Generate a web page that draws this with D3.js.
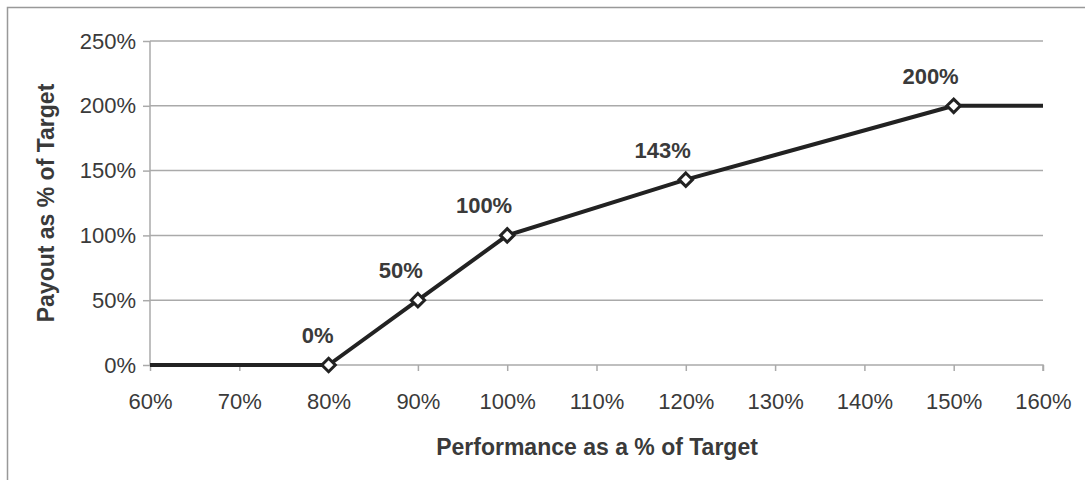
<!DOCTYPE html>
<html><head><meta charset="utf-8">
<script src="https://cdn.jsdelivr.net/npm/d3@7"></script>
<style>body{margin:0;background:#fff;}svg{display:block;font-family:"Liberation Sans",Arial,sans-serif;}</style>
</head><body><svg id="c" width="1085" height="480"></svg>
<script>
const performance = [60, 80, 90, 100, 120, 150, 160];
const payout = [0, 0, 50, 100, 143, 200, 200];
const labeled = [false, true, true, true, true, true, false];
const xTicks = [60,70,80,90,100,110,120,130,140,150,160];
const yTicks = [0,50,100,150,200,250];
const xTitle = "Performance as a % of Target";
const yTitle = "Payout as % of Target";

const svg = d3.select("#c");
svg.append("rect").attr("x",7.5).attr("y",7.5).attr("width",1090).attr("height",490)
  .attr("fill","none").attr("stroke","#999").attr("stroke-width",1.5);

const x = d3.scaleLinear().domain([60,160]).range([150,1043]);
const y = d3.scaleLinear().domain([0,250]).range([365,41]);

// gridlines
svg.append("g").selectAll("line").data(yTicks.filter(d=>d>0)).join("line")
  .attr("x1",150).attr("x2",1043).attr("y1",d=>y(d)).attr("y2",d=>y(d))
  .attr("stroke","#aaa").attr("stroke-width",1.5);

const gy = svg.append("g").attr("transform","translate(150,0)")
  .call(d3.axisLeft(y).tickValues(yTicks).tickFormat(d=>d+"%").tickSize(7).tickPadding(7));
const gx = svg.append("g").attr("transform","translate(0,365)")
  .call(d3.axisBottom(x).tickValues(xTicks).tickFormat(d=>d+"%").tickSize(6).tickPadding(22));
[gy,gx].forEach(g=>{
  g.selectAll("path,line").attr("stroke","#aaa").attr("stroke-width",1.5);
  g.selectAll("text").attr("fill","#3a3a3a").style("font-size","22px").style("font-family","Liberation Sans, Arial, sans-serif");
});
gx.select(".domain").attr("d","M150,0H1043V6");
gy.select(".domain").attr("d","M0,"+y(250)+"V"+y(0));

const pts = performance.map((p,i)=>({p, v:payout[i], lab:labeled[i]}));
svg.append("path").datum(pts)
  .attr("d", d3.line().x(d=>x(d.p)).y(d=>y(d.v)))
  .attr("fill","none").attr("stroke","#222").attr("stroke-width",4).attr("stroke-linejoin","round");

const mk = pts.filter(d=>d.lab);
svg.append("g").selectAll("path").data(mk).join("path")
  .attr("transform",d=>`translate(${x(d.p)},${y(d.v)})`)
  .attr("d", d3.symbol().type(d3.symbolDiamond2 || d3.symbolDiamond).size(115))
  .attr("fill","#fff").attr("stroke","#222").attr("stroke-width",3);

svg.append("g").selectAll("text").data(mk).join("text")
  .attr("x",d=>x(d.p)+5).attr("y",d=>y(d.v)-22)
  .attr("text-anchor","end").attr("fill","#3a3a3a")
  .style("font-size","22px").style("font-weight","bold")
  .text(d=>d.v+"%");

svg.append("text").attr("x",597).attr("y",455).attr("text-anchor","middle")
  .attr("fill","#3a3a3a").style("font-size","23px").style("font-weight","bold").text(xTitle);
svg.append("text").attr("transform","translate(54,203) rotate(-90)").attr("text-anchor","middle")
  .attr("fill","#3a3a3a").style("font-size","23px").style("font-weight","bold").text(yTitle);
</script></body></html>
